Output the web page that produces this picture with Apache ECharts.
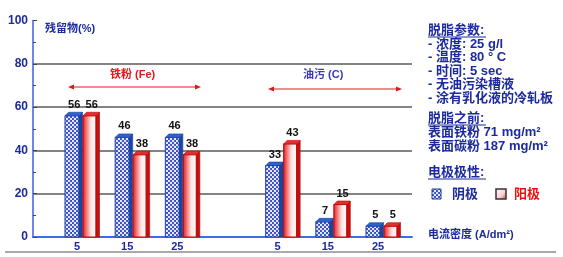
<!DOCTYPE html>
<html>
<head>
<meta charset="utf-8">
<script src="https://cdn.jsdelivr.net/npm/echarts@6/dist/echarts.min.js"></script>
<style>
  html, body { margin: 0; padding: 0; background: #fff; }
  #chart { width: 563px; height: 257px; }
</style>
</head>
<body>
<div id="chart"></div>
<script>
// 电流密度 categories (two groups, blank slot between them)
const categories = ['5', '15', '25', '', '5', '15', '25'];
// 残留物 (%)
const cathodeValues = [56, 46, 46, null, 33, 7, 5]; // 阴极
const anodeValues = [56, 38, 38, null, 43, 15, 5];  // 阳极
const yMin = 0;
const yMax = 100;
const yInterval = 20;

const navy = '#1c2a9c';
const cjk = '"Liberation Sans", "Noto Sans CJK SC", sans-serif';

// dotted pattern for the cathode bars
function makeDots() {
  const c = document.createElement('canvas');
  c.width = 4; c.height = 4;
  const g = c.getContext('2d');
  g.fillStyle = '#3a4cc4';
  g.fillRect(0, 0, 4, 4);
  g.fillStyle = '#eef0ff';
  g.beginPath(); g.arc(1, 1, 1.15, 0, Math.PI * 2); g.fill();
  g.beginPath(); g.arc(3, 3, 1.15, 0, Math.PI * 2); g.fill();
  return c;
}
const dots = { image: makeDots(), repeat: 'repeat' };

const redFront = new echarts.graphic.LinearGradient(0, 0, 1, 0, [
  { offset: 0, color: '#e01818' },
  { offset: 0.15, color: '#f04848' },
  { offset: 0.6, color: '#fde6e6' },
  { offset: 1, color: '#ffffff' },
]);

function bar3d(offset, w, front, side, top, stroke) {
  return function (params, api) {
    const i = api.value(0);
    const v = api.value(1);
    const b = api.coord([i, 0]);
    const t = api.coord([i, v]);
    const x = b[0] - 12 + offset;
    const yb = b[1];
    const yt = t[1];
    const d = 3.5;
    return {
      type: 'group',
      children: [
        { type: 'rect', shape: { x: x, y: yt, width: w, height: yb - yt },
          style: { fill: front, stroke: stroke, lineWidth: 1 } },
        { type: 'polygon', shape: { points: [[x + w, yt], [x + w + d, yt - d], [x + w + d, yb], [x + w, yb]] },
          style: { fill: side, stroke: stroke, lineWidth: 0.6 } },
        { type: 'polygon', shape: { points: [[x, yt], [x + w, yt], [x + w + d, yt - d], [x + d, yt - d]] },
          style: { fill: top, stroke: stroke, lineWidth: 0.6 } },
        { type: 'text', style: { text: String(v), x: x + (w + d) / 2 + 0.5, y: yt - d - 2,
            align: 'center', verticalAlign: 'bottom', fill: '#111',
            font: 'bold 11px "Liberation Sans", Arial, sans-serif' } },
      ],
    };
  };
}

function toData(values) {
  return values.map((v, i) => (v == null ? null : [i, v])).filter(Boolean);
}

function arrow(x1, x2, y, color) {
  return [
    { type: 'line', shape: { x1: x1 + 3, y1: y, x2: x2 - 3, y2: y }, style: { stroke: color, lineWidth: 1 } },
    { type: 'polygon', shape: { points: [[x1, y], [x1 + 6, y - 2.5], [x1 + 6, y + 2.5]] }, style: { fill: color } },
    { type: 'polygon', shape: { points: [[x2, y], [x2 - 6, y - 2.5], [x2 - 6, y + 2.5]] }, style: { fill: color } },
  ];
}

function txt(text, x, y, color, size, weight) {
  return {
    type: 'text', x: x, y: y,
    style: { text: text, fill: color, font: (weight || 'bold') + ' ' + size + 'px ' + cjk, verticalAlign: 'middle' },
  };
}

function uline(x1, x2, y) {
  return { type: 'line', shape: { x1: x1, y1: y, x2: x2, y2: y }, style: { stroke: navy, lineWidth: 1 } };
}

const chart = echarts.init(document.getElementById('chart'));

const option = {
  backgroundColor: '#fff',
  animation: false,
  grid: [
    { left: 33, right: 151, top: 20.5, bottom: 20 },
    { left: 51.9, right: 159.9, top: 20.5, bottom: 20 },
  ],
  xAxis: [
    {
      gridIndex: 0, type: 'value', min: 0, max: 1,
      axisLine: { show: true, lineStyle: { color: '#3d6ee8', width: 2 } },
      axisTick: { show: false }, axisLabel: { show: false }, splitLine: { show: false },
    },
    {
      gridIndex: 1, type: 'category', data: categories,
      axisLine: { show: false }, axisTick: { show: false },
      axisLabel: { color: navy, fontSize: 11, fontWeight: 'bold', margin: 4, interval: 0,
        fontFamily: '"Liberation Sans", Arial, sans-serif' },
    },
  ],
  yAxis: [
    {
      gridIndex: 0, type: 'value', min: yMin, max: yMax, interval: yInterval,
      axisLine: { show: true, lineStyle: { color: '#3d5ee0', width: 1.5 } },
      axisTick: { show: true, inside: true, length: 4, lineStyle: { color: '#444' } },
      minorTick: { show: true, splitNumber: 2, length: 3, lineStyle: { color: '#444' } },
      axisLabel: { color: navy, fontSize: 12, fontWeight: 'bold', margin: 5,
        fontFamily: '"Liberation Sans", Arial, sans-serif' },
      splitLine: { show: true, showMaxLine: false, lineStyle: { color: '#5a5a5a', width: 1.5 } },
    },
    { gridIndex: 1, type: 'value', min: yMin, max: yMax, show: false, splitLine: { show: false } },
  ],
  series: [
    {
      name: '阴极', type: 'custom', xAxisIndex: 1, yAxisIndex: 1,
      renderItem: bar3d(0, 14, dots, '#1846a6', '#2c63cc', '#1d3c9e'),
      data: toData(cathodeValues), z: 5,
    },
    {
      name: '阳极', type: 'custom', xAxisIndex: 1, yAxisIndex: 1,
      renderItem: bar3d(18, 13, redFront, '#c41010', '#e23030', '#c00000'),
      data: toData(anodeValues), z: 5,
    },
  ],
  graphic: [
    txt('残留物(%)', 45, 29, navy, 11),
    txt('铁粉 (Fe)', 110, 75, '#e01818', 11),
    ...arrow(68, 201, 87, '#e01818'),
    txt('油污 (C)', 303, 75, '#3a3ab8', 11),
    ...arrow(268, 402, 89, '#e01818'),

    txt('脱脂参数:', 428, 30, navy, 13), uline(428, 486, 37),
    txt('- 浓度: 25 g/l', 428, 44, navy, 13),
    txt('- 温度: 80 ° C', 428, 57.5, navy, 13),
    txt('- 时间: 5 sec', 428, 71, navy, 13),
    txt('- 无油污染槽液', 428, 84.5, navy, 13),
    txt('- 涂有乳化液的冷轧板', 428, 98, navy, 13),
    txt('脱脂之前:', 428, 118, navy, 13), uline(428, 486, 125),
    txt('表面铁粉 71 mg/m²', 428, 132, navy, 13),
    txt('表面碳粉 187 mg/m²', 428, 146, navy, 13),
    txt('电极极性:', 428, 172, navy, 13), uline(428, 486, 179),
    { type: 'rect', shape: { x: 432, y: 189, width: 9, height: 10 }, style: { fill: dots, stroke: '#1d3c9e', lineWidth: 1 } },
    txt('阴极', 452, 194, navy, 13),
    { type: 'rect', shape: { x: 496, y: 189, width: 10, height: 10 },
      style: { fill: new echarts.graphic.LinearGradient(0, 0, 1, 1, [
        { offset: 0, color: '#ffffff' }, { offset: 0.6, color: '#f8d0d0' }, { offset: 1, color: '#e02020' }]),
        stroke: '#333', lineWidth: 1.5 } },
    txt('阳极', 514, 194, '#ee1111', 13),
    txt('电流密度 (A/dm²)', 428, 235, navy, 11),
    { type: 'line', shape: { x1: 5, y1: 252, x2: 556, y2: 252 }, style: { stroke: '#555', lineWidth: 1 } },
  ],
};

chart.setOption(option);
</script>
</body>
</html>
